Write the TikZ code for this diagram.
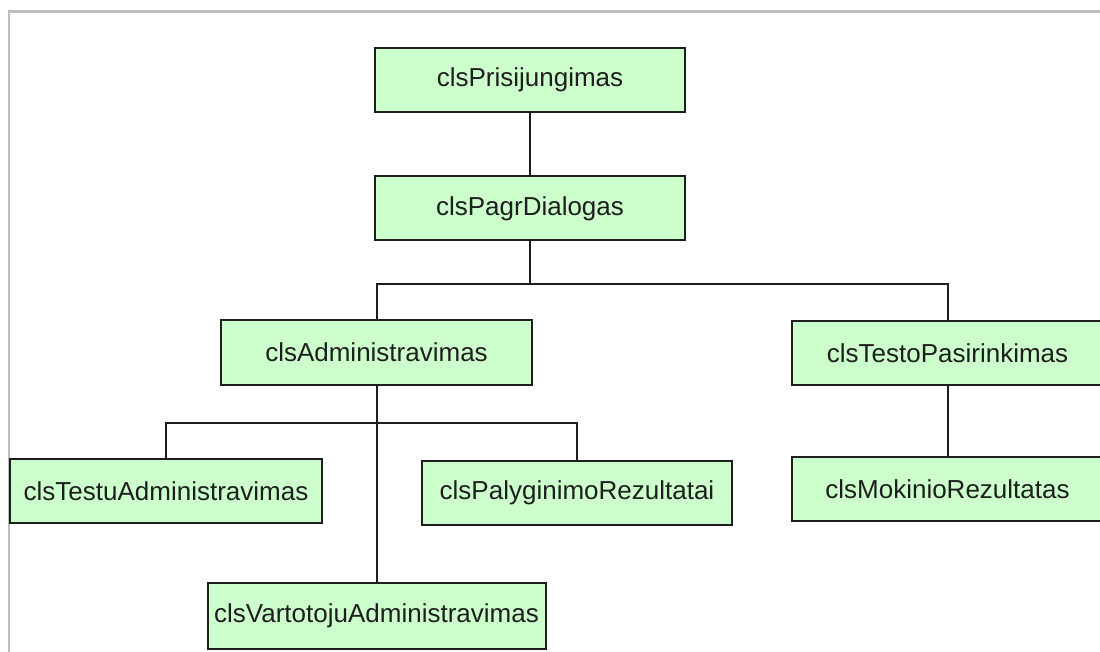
\documentclass[tikz,border=0pt]{standalone}
\usepackage{fontspec}
\setmainfont{Liberation Sans}
\definecolor{boxfill}{HTML}{CCFFCC}
\definecolor{ink}{HTML}{1E1E1E}
\definecolor{frame}{HTML}{BDBDBD}
\begin{document}
\begin{tikzpicture}[x=1pt,y=-1pt,
  cls/.style={draw=ink,fill=boxfill,line width=2pt,inner sep=0pt,
    minimum width=310pt,minimum height=64pt,text=ink,
    font=\fontsize{26}{30}\selectfont},
  link/.style={draw=ink,line width=2pt}]
\useasboundingbox (0,0) rectangle (1100,652);
\clip (0,0) rectangle (1100,652);
% window frame
\draw[frame,line width=2.5pt] (9,652) -- (9,11.5) -- (1100,11.5);
% classes
\node[cls] (pris)  at (530,80)      {clsPrisijungimas};
\node[cls] (pagr)  at (530,208.5)   {clsPagrDialogas};
\node[cls,minimum width=311pt,minimum height=65pt] (admin) at (376.5,352.5) {clsAdministravimas};
\node[cls,minimum width=311pt,minimum height=64pt] (testo) at (947.5,353)   {clsTestoPasirinkimas};
\node[cls,minimum width=312pt] (testu) at (166,491)     {clsTestuAdministravimas};
\node[cls] (paly)  at (577,493)     {clsPalyginimoRezultatai};
\node[cls,minimum width=311pt] (mok) at (947.5,489)   {clsMokinioRezultatas};
\node[cls,minimum width=338pt,minimum height=66pt] (vart) at (376.5,616) {clsVartotojuAdministravimas};
% junctions
\coordinate (j1) at (530,284);
\coordinate (j2) at (376.5,423);
% connectors
\draw[link] (pris.south) -- (pagr.north);
\draw[link] (pagr.south) -- (j1);
\draw[link] (admin.north) |- (j1) -| (testo.north);
\draw[link] (admin.south) -- (vart.north);
\draw[link] (testu.north) |- (j2) -| (paly.north);
\draw[link] (testo.south) -- (mok.north);
\end{tikzpicture}
\end{document}
